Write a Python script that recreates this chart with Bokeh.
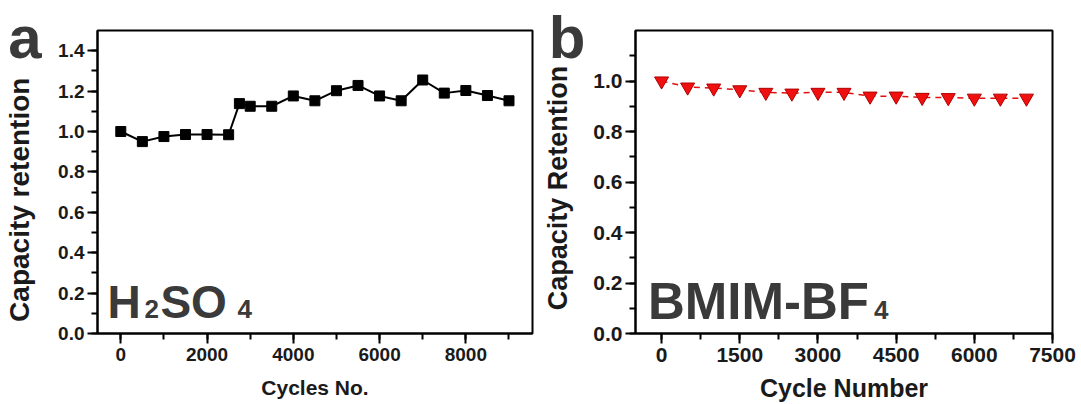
from bokeh.plotting import figure
from bokeh.layouts import row
from bokeh.models import (Label, SingleIntervalTicker, NumeralTickFormatter, Range1d,
                          LinearAxis, FixedTicker)
from bokeh.embed import file_html
from bokeh.resources import INLINE

# ---- data ----
cycles_a = [0, 500, 1000, 1500, 2000, 2500, 2750, 3000, 3500, 4000, 4500,
            5000, 5500, 6000, 6500, 7000, 7500, 8000, 8500, 9000]
retention_a = [1.00, 0.950, 0.975, 0.985, 0.985, 0.984, 1.138, 1.125, 1.125, 1.176, 1.152,
               1.202, 1.228, 1.176, 1.152, 1.255, 1.190, 1.203, 1.178, 1.152]

cycles_b = [0, 500, 1000, 1500, 2000, 2500, 3000, 3500, 4000, 4500, 5000, 5500, 6000, 6500, 7000]
retention_b = [1.00, 0.976, 0.972, 0.965, 0.955, 0.952, 0.955, 0.955, 0.940, 0.940,
               0.935, 0.934, 0.932, 0.932, 0.932]

FONT = "Liberation Sans"
TXT = "#1a1a1a"
BIG = "#3a3a3a"


def style(p, xint, yint, tick_size, xlab_size, xlab_standoff):
    p.outline_line_color = "black"
    p.outline_line_width = 2
    p.grid.visible = False
    p.background_fill_color = "white"
    p.border_fill_color = "white"
    p.xaxis.ticker = SingleIntervalTicker(interval=xint, num_minor_ticks=2)
    p.yaxis.ticker = SingleIntervalTicker(interval=yint, num_minor_ticks=2)
    p.yaxis.formatter = NumeralTickFormatter(format="0.0")
    p.xaxis.formatter = NumeralTickFormatter(format="0")
    for ax in (p.xaxis[0], p.yaxis[0]):
        ax.axis_line_width = 2
        ax.axis_line_color = "black"
        ax.major_tick_line_width = 2
        ax.minor_tick_line_width = 2
        ax.major_tick_line_color = "black"
        ax.minor_tick_line_color = "black"
        ax.major_tick_out = 10
        ax.major_tick_in = 0
        ax.minor_tick_out = 6
        ax.minor_tick_in = 0
        ax.major_label_text_font = FONT
        ax.major_label_text_font_style = "bold"
        ax.major_label_text_color = TXT
        ax.major_label_text_font_size = f"{tick_size}px"
        ax.axis_label_text_font = FONT
        ax.axis_label_text_font_style = "bold"
        ax.axis_label_text_color = TXT
    p.xaxis.major_label_standoff = 4
    p.yaxis.major_label_standoff = 3
    p.xaxis.axis_label_standoff = xlab_standoff
    p.xaxis.axis_label_text_font_size = f"{xlab_size}px"


def hidden_axis(**kw):
    return LinearAxis(axis_line_color=None, major_tick_line_color=None, minor_tick_line_color=None,
                      major_tick_out=0, major_tick_in=0, minor_tick_out=0, minor_tick_in=0, **kw)


def outer_axes(p, letter, letter_at, ylabel, ylabel_at, ylab_size, label_standoff, title_standoff):
    """Two extra left axes: the inner one carries the panel letter as its only tick label,
    the outer one carries the (vertical) y title as a tick label at its centre position."""
    letter_ax = hidden_axis(ticker=FixedTicker(ticks=[letter_at], minor_ticks=[]),
                            major_label_overrides={letter_at: letter},
                            major_label_standoff=label_standoff,
                            major_label_text_font=FONT, major_label_text_font_style="bold",
                            major_label_text_font_size="60px", major_label_text_color=BIG)
    title_ax = hidden_axis(ticker=FixedTicker(ticks=[ylabel_at], minor_ticks=[]),
                           major_label_overrides={ylabel_at: ylabel},
                           major_label_orientation="vertical",
                           major_label_standoff=title_standoff,
                           major_label_text_font=FONT, major_label_text_font_style="bold",
                           major_label_text_font_size=f"{ylab_size}px",
                           major_label_text_color=TXT)
    p.add_layout(letter_ax, "left")
    p.add_layout(title_ax, "left")


def big_label(p, x, y, text, size, xoff=0):
    p.add_layout(Label(x=x, y=y, x_offset=xoff, y_offset=round(0.35 * size), text=text,
                       text_font=FONT, text_font_style="bold", text_font_size=f"{size}px",
                       text_color=BIG, text_baseline="alphabetic"))


# ---- panel a ----
pa = figure(width=540, height=404, output_backend="svg", toolbar_location=None,
            x_range=Range1d(-540, 9545), y_range=Range1d(0, 1.5),
            min_border_left=97, min_border_right=8, min_border_top=22, min_border_bottom=66,
            x_axis_label="Cycles No.")
style(pa, 2000, 0.2, 19, 21, 12)
outer_axes(pa, "a", 1.5, "Capacity retention", 0.662, 28, 14, -30)
pa.line(cycles_a, retention_a, line_color="black", line_width=2)
pa.scatter(cycles_a, retention_a, marker="square", size=10, fill_color="black", line_color="black")

for t, off, sz in [("H", 0, 46), ("2", 37, 26), ("SO", 53, 46), ("4", 130, 26)]:
    big_label(pa, -310, 0.076, t, sz, off)

# ---- panel b ----
pb = figure(width=541, height=404, output_backend="svg", toolbar_location=None,
            x_range=Range1d(-500, 7500), y_range=Range1d(0, 1.2),
            min_border_left=94, min_border_right=29, min_border_top=30, min_border_bottom=66,
            x_axis_label="Cycle Number")
style(pb, 1500, 0.2, 21, 25, 9)
outer_axes(pb, "b", 1.2, "Capacity Retention", 0.576, 27, 5, -28)
pb.line(cycles_b, retention_b, line_color="#e01010", line_width=1.5, line_dash="6 5")
pb.scatter(cycles_b, retention_b, marker="inverted_triangle", size=14,
           fill_color="#f01010", line_color="#b00000", line_width=1)

for t, off, sz in [("BMIM-BF", 0, 51), ("4", 226, 26)]:
    big_label(pb, -260, 0.057, t, sz, off)

layout = row(pa, pb)
open("out.html", "w").write(file_html(layout, INLINE))
